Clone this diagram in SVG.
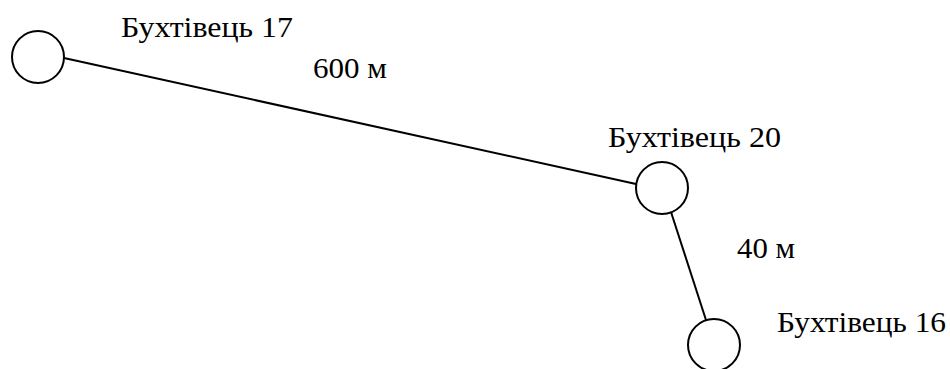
<svg xmlns="http://www.w3.org/2000/svg" width="950" height="369" viewBox="0 0 950 369">
<style>
.node circle{fill:#fff;stroke:#000;stroke-width:2}
.edges line{stroke:#000;stroke-width:2}
.t{font-family:"Liberation Serif","DejaVu Serif","Times New Roman",Times,serif;font-size:29px;fill:#000}
</style>
<rect width="950" height="369" fill="#fff"/>
<g id="edges" class="edges">
<line x1="64" y1="58" x2="636" y2="184"/>
<line x1="671" y1="212" x2="706" y2="320"/>
</g>
<g id="label-600"><text class="t" font-family="DejaVu Serif" x="313" y="78" textLength="74" lengthAdjust="spacingAndGlyphs">600 м</text></g>
<g id="label-40"><text class="t" x="737" y="258" textLength="58" lengthAdjust="spacingAndGlyphs">40 м</text></g>
<g id="n17" class="node"><circle cx="38" cy="57" r="26"/><text class="t" x="121" y="37" textLength="172" lengthAdjust="spacingAndGlyphs">Бухтівець 17</text></g>
<g id="n20" class="node"><circle cx="662" cy="188" r="26"/><text class="t" x="608" y="147" textLength="173" lengthAdjust="spacingAndGlyphs">Бухтівець 20</text></g>
<g id="n16" class="node"><circle cx="714" cy="345" r="26"/><text class="t" x="777" y="332" textLength="169" lengthAdjust="spacingAndGlyphs">Бухтівець 16</text></g>
</svg>
